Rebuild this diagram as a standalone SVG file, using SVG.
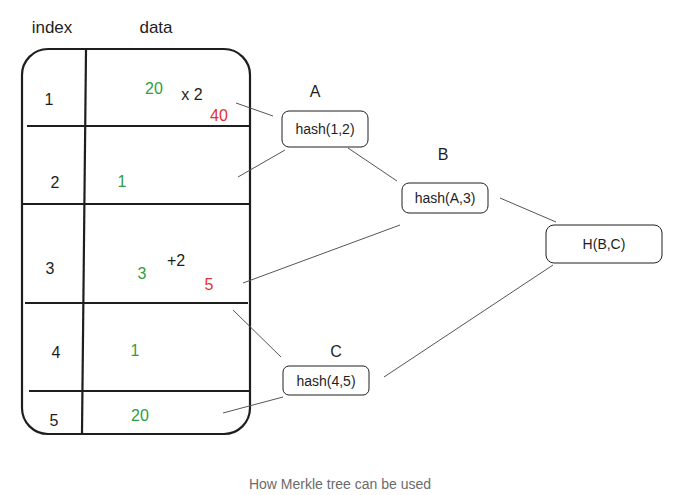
<svg xmlns="http://www.w3.org/2000/svg" width="680" height="495" viewBox="0 0 680 495">
<style>
.t{font-family:"Liberation Sans","DejaVu Sans",sans-serif;fill:#1e1e1e;text-anchor:middle}
.h{font-size:17px}
.n{font-size:16px}
.g{fill:#2f9e44}
.r{fill:#e03131}
.box{fill:#fff;stroke:#1e1e1e;stroke-width:1}
.tl{fill:none;stroke:#1e1e1e;stroke-width:2.2}
.c{stroke:#555;stroke-width:1;fill:none}
.nl{font-size:14px}
</style>
<rect width="680" height="495" fill="#fff"/>
<g id="table">
<text class="t h" x="52" y="33">index</text>
<text class="t h" x="156" y="33">data</text>
<rect class="tl" x="22" y="49" width="228" height="385" rx="26"/>
<line class="tl" x1="86" y1="50" x2="82" y2="433"/>
<line class="tl" x1="27" y1="126" x2="249" y2="126"/>
<line class="tl" x1="22" y1="204" x2="249" y2="204"/>
<line class="tl" x1="25" y1="303" x2="248" y2="303"/>
<line class="tl" x1="29" y1="391" x2="250" y2="391"/>
<text class="t n" x="49" y="105">1</text>
<text class="t n" x="55" y="188">2</text>
<text class="t n" x="50" y="274">3</text>
<text class="t n" x="56" y="358">4</text>
<text class="t n" x="54" y="426">5</text>
<text class="t n g" x="154" y="94">20</text>
<text class="t n" x="192" y="100">x 2</text>
<text class="t n r" x="219" y="121">40</text>
<text class="t n g" x="122" y="187">1</text>
<text class="t n g" x="142" y="279">3</text>
<text class="t n" x="176" y="266">+2</text>
<text class="t n r" x="209" y="290">5</text>
<text class="t n g" x="135" y="356">1</text>
<text class="t n g" x="140" y="421">20</text>
</g>
<g id="connectors">
<line class="c" x1="236" y1="103" x2="273" y2="116"/>
<line class="c" x1="238" y1="177" x2="285" y2="150"/>
<line class="c" x1="348" y1="148" x2="397" y2="181"/>
<line class="c" x1="500" y1="198" x2="556" y2="222"/>
<line class="c" x1="243" y1="283" x2="400" y2="225"/>
<line class="c" x1="233" y1="310" x2="281" y2="357"/>
<line class="c" x1="223" y1="413" x2="283" y2="397"/>
<line class="c" x1="384" y1="377" x2="553" y2="265"/>
</g>
<g id="A">
<text class="t n" x="315" y="97">A</text>
<rect class="box" x="282" y="111" width="86" height="36" rx="7"/>
<text class="t nl" x="325" y="134">hash(1,2)</text>
</g>
<g id="B">
<text class="t n" x="443" y="160">B</text>
<rect class="box" x="402" y="183" width="86" height="30" rx="7"/>
<text class="t nl" x="445" y="203">hash(A,3)</text>
</g>
<g id="H">
<rect class="box" x="546" y="225" width="116" height="38" rx="8"/>
<text class="t nl" x="604" y="249">H(B,C)</text>
</g>
<g id="C">
<text class="t n" x="336" y="357">C</text>
<rect class="box" x="283" y="366" width="86" height="29" rx="6"/>
<text class="t nl" x="326" y="386">hash(4,5)</text>
</g>
<text x="340" y="489" style="font-family:'Liberation Sans','DejaVu Sans',sans-serif;font-size:14px;fill:#6b6b6b;text-anchor:middle">How Merkle tree can be used</text>
</svg>
